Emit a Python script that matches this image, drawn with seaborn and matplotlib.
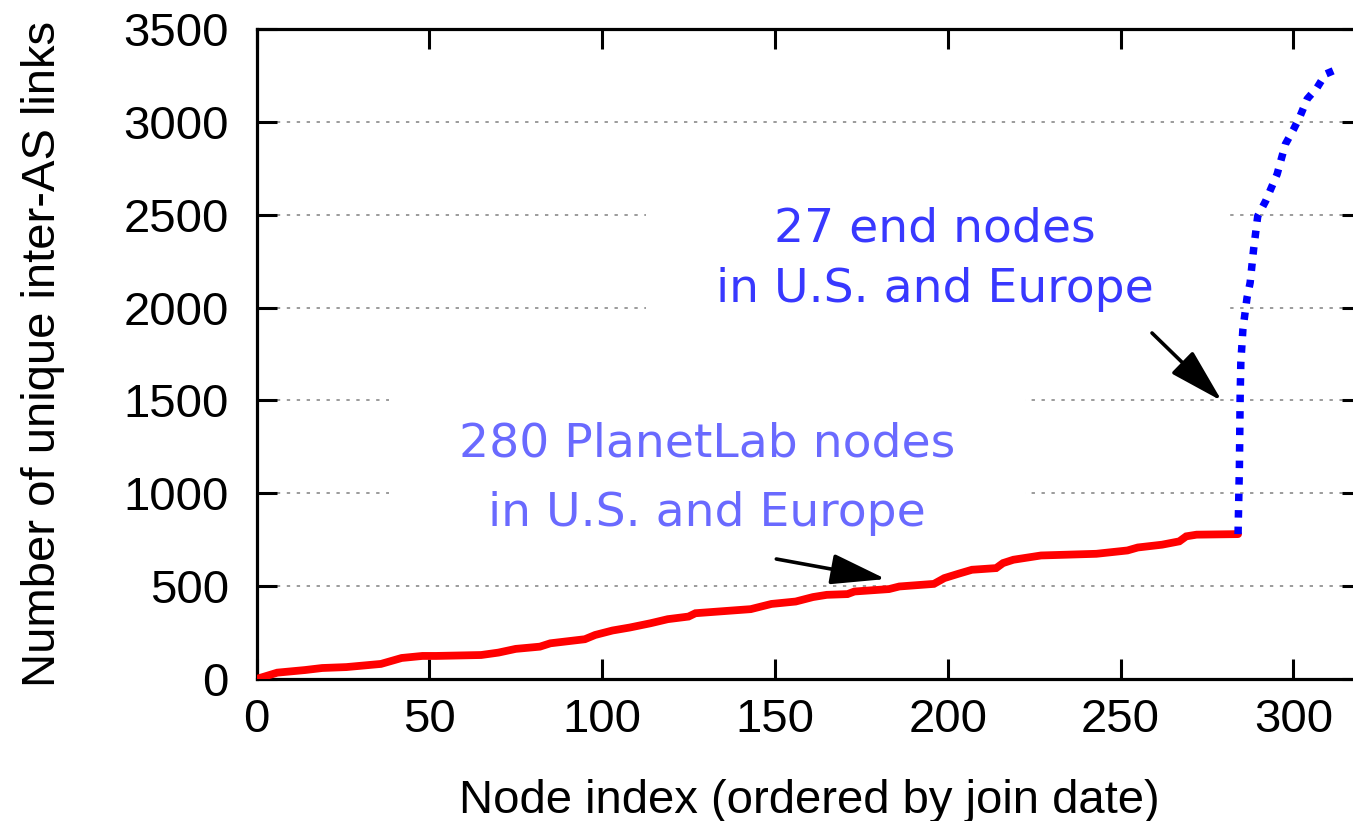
import matplotlib
matplotlib.use("Agg")
import matplotlib.pyplot as plt
from matplotlib.patches import Rectangle
import seaborn as sns
import pandas as pd

# Cumulative unique inter-AS links as nodes are added in join order
planetlab_nodes = [0, 6, 14, 19, 26, 36, 42, 48, 52, 65, 70, 75, 82, 85, 95, 98,
                   103, 108, 114, 119, 125, 127, 143, 149, 156, 161, 165, 171, 173,
                   183, 186, 196, 199, 203, 207, 214, 216, 219, 227, 243, 252, 255,
                   262, 267, 269, 272, 284]
planetlab_links = [0, 34, 48, 59, 64, 81, 113, 124, 124, 129, 142, 162, 174, 192,
                   214, 237, 261, 277, 300, 322, 336, 354, 376, 404, 417, 441, 453,
                   457, 471, 484, 498, 512, 543, 566, 588, 597, 624, 642, 665, 674,
                   692, 708, 723, 741, 768, 777, 780]

end_nodes = [284, 284.4, 284.6, 284.8, 285.4, 286.6, 287.5, 288.5, 289.7, 292,
             295.3, 297.7, 300.1, 302, 304, 306.9, 309.3, 311.7]
end_links = [780, 1154, 1514, 1703, 1882, 2053, 2134, 2314, 2493, 2574, 2718,
             2880, 2961, 3033, 3123, 3185, 3257, 3276]

x_ticks = [0, 50, 100, 150, 200, 250, 300]
y_ticks = [0, 500, 1000, 1500, 2000, 2500, 3000, 3500]

x_label = "Node index (ordered by join date)"
y_label = "Number of unique inter-AS links"
end_text = "27 end nodes\nin U.S. and Europe"
planetlab_text = "280 PlanetLab nodes\nin U.S. and Europe"

sns.set_style("ticks")
plt.rcParams["font.family"] = ["Liberation Sans", "DejaVu Sans"]
plt.rcParams["text.color"] = "black"
plt.rcParams["axes.labelcolor"] = "black"

fig = plt.figure(figsize=(13.53, 8.21), dpi=100)
ax = fig.add_axes([0.1896, 0.1730, 0.8174, 0.7917])

df_pl = pd.DataFrame({"node": planetlab_nodes, "links": planetlab_links})
df_end = pd.DataFrame({"node": end_nodes, "links": end_links})

sns.lineplot(data=df_pl, x="node", y="links", color="#ff0000", linewidth=5.6,
             sort=False, estimator=None, ax=ax, zorder=3,
             solid_joinstyle="miter")
sns.lineplot(data=df_end, x="node", y="links", color="#0000ff", linewidth=5.4,
             sort=False, estimator=None, ax=ax, zorder=3.1,
             dashes=(1, 1.2), dash_capstyle="butt")

ax.set_xlim(0, 320)
ax.set_ylim(0, 3500)
ax.set_xticks(x_ticks)
ax.set_yticks(y_ticks)

# dotted horizontal grid, skipping the bottom and top edges
ax.set_axisbelow(True)
for yv in y_ticks[1:-1]:
    ax.axhline(yv, color="#808080", linewidth=1.1, linestyle=(0, (2.2, 4.3)),
               zorder=0.5)

for s in ax.spines.values():
    s.set_linewidth(2.3)
    s.set_color("black")

ax.tick_params(axis="both", direction="in", length=14.5, width=2.2,
               top=True, right=True, labelsize=34, colors="black")
ax.tick_params(axis="x", pad=14)
ax.tick_params(axis="y", pad=20)

ax.set_xlabel(x_label, fontsize=34, labelpad=26, color="black")
ax.set_ylabel(y_label, fontsize=34, labelpad=42, color="black")

# annotation texts with white backing boxes that hide the grid
t_end = ax.text(196.3, 2262, end_text, color="#3838ff", fontsize=34,
                family=["DejaVu Sans"], ha="center", va="center",
                linespacing=1.45, zorder=4)
t_pl = ax.text(130.4, 1080, planetlab_text, color="#6a6aff", fontsize=34,
               family=["DejaVu Sans"], ha="center", va="center",
               linespacing=1.7, zorder=4)

fig.canvas.draw()
renderer = fig.canvas.get_renderer()
inv = ax.transAxes.inverted()
for t, padx, pady in [(t_end, 70, 25), (t_pl, 70, 25)]:
    bb = t.get_window_extent(renderer)
    (x0, y0) = inv.transform((bb.x0 - padx, bb.y0 - pady))
    (x1, y1) = inv.transform((bb.x1 + padx, bb.y1 + pady))
    ax.add_patch(Rectangle((x0, y0), x1 - x0, y1 - y0, transform=ax.transAxes,
                           facecolor="white", edgecolor="none", zorder=1,
                           clip_on=False))

arrow_style = "-|>,head_length=34,head_width=9.5"
ax.annotate("", xy=(279.3, 1497), xytext=(259.1, 1863),
            arrowprops=dict(arrowstyle=arrow_style, mutation_scale=1,
                            color="black", linewidth=2.6, shrinkA=0, shrinkB=0),
            zorder=5)
ax.annotate("", xy=(182.1, 538), xytext=(150.4, 646),
            arrowprops=dict(arrowstyle=arrow_style, mutation_scale=1,
                            color="black", linewidth=2.6, shrinkA=0, shrinkB=0),
            zorder=5)

fig.savefig("out.png", dpi=100)
